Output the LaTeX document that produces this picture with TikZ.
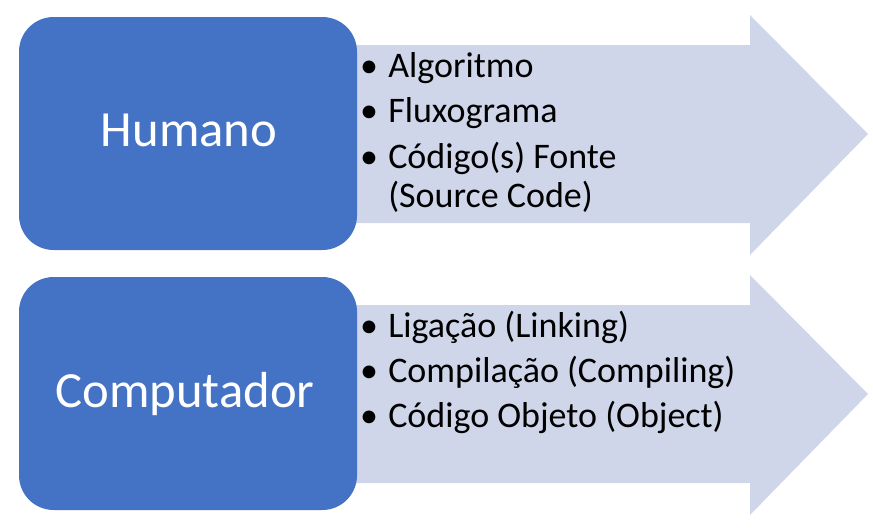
\documentclass[tikz,border=0pt]{standalone}
\usepackage{fontspec}
\setmainfont{Carlito}
\definecolor{boxblue}{RGB}{68,114,196}
\definecolor{arrowfill}{RGB}{208,214,234}
\begin{document}
\begin{tikzpicture}[x=0.75pt,y=-0.75pt,
  bigbox/.style={fill=boxblue,draw=none,rounded corners=26pt,minimum width=253.5pt,minimum height=174.75pt,inner sep=0pt},
  bigtext/.style={anchor=base,text=white,font=\fontsize{38}{42}\selectfont,inner sep=0pt},
  bul/.style={anchor=base,font=\fontsize{27}{30}\selectfont,inner sep=0pt},
  item/.style={anchor=base west,font=\fontsize{27}{30}\selectfont,inner sep=0pt},
  arrowshape/.style={fill=arrowfill,draw=none}]
\useasboundingbox (0,0) rectangle (873,529);
% top arrow
\fill[arrowshape] (350,45) -- (750,45) -- (750,15) -- (868,134) -- (750,255) -- (750,223) -- (350,223) -- cycle;
% bottom arrow
\fill[arrowshape] (350,305) -- (750,305) -- (750,275) -- (868,394) -- (750,515) -- (750,483) -- (350,483) -- cycle;
% boxes
\node[bigbox] (hbox) at (188,133.5) {};
\node[bigtext] (htext) at (189,146) {Humano};
\node[bigbox] (cbox) at (188,393.5) {};
\node[bigtext] (ctext) at (185,407) {Computador};
% top items
\node[bul] (b1) at (369,77) {•};
\node[item] (t1) at (388,77) {Algoritmo};
\node[bul] (b2) at (369,122) {•};
\node[item] (t2) at (388,122) {Fluxograma};
\node[bul] (b3) at (369,168) {•};
\node[item] (t3) at (388,168) {Código(s) Fonte};
\node[item] (t3b) at (388,207) {(Source Code)};
% bottom items
\node[bul] (b4) at (369,337) {•};
\node[item] (t4) at (388,337) {Ligação (Linking)};
\node[bul] (b5) at (369,382) {•};
\node[item] (t5) at (388,382) {Compilação (Compiling)};
\node[bul] (b6) at (369,427) {•};
\node[item] (t6) at (388,427) {Código Objeto (Object)};
\end{tikzpicture}
\end{document}
